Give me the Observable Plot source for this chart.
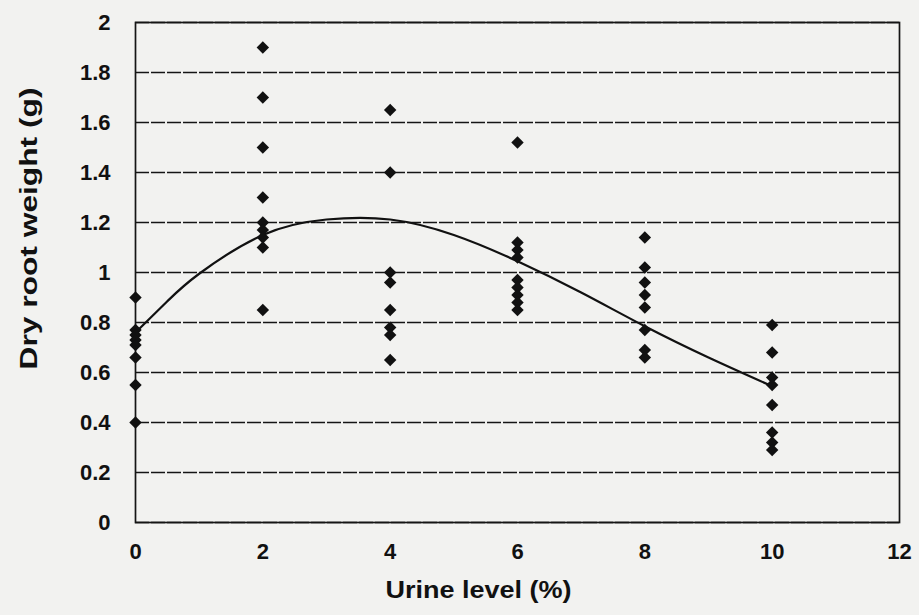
<!DOCTYPE html>
<html><head><meta charset="utf-8">
<script src="https://cdn.jsdelivr.net/npm/d3@7"></script>
<script src="https://cdn.jsdelivr.net/npm/@observablehq/plot@0.6"></script>
<style>
  html, body { margin: 0; padding: 0; background: #f2f2f0; }
  svg { display: block; }
</style>
</head>
<body>
<div id="chart"></div>
<script>
// Urine level categories (%)
const urineLevels = [0, 2, 4, 6, 8, 10];
// Dry root weight (g) for each urine level
const weightsAt0  = [0.90, 0.77, 0.75, 0.73, 0.71, 0.66, 0.55, 0.40];
const weightsAt2  = [1.90, 1.70, 1.50, 1.30, 1.20, 1.17, 1.14, 1.10, 0.85];
const weightsAt4  = [1.65, 1.40, 1.00, 0.96, 0.85, 0.78, 0.75, 0.65];
const weightsAt6  = [1.52, 1.12, 1.09, 1.06, 0.97, 0.94, 0.91, 0.88, 0.85];
const weightsAt8  = [1.14, 1.02, 0.96, 0.91, 0.86, 0.77, 0.69, 0.66];
const weightsAt10 = [0.79, 0.68, 0.58, 0.55, 0.47, 0.36, 0.32, 0.29];
// Fitted trend curve
const fitX = [0, 0.5, 1, 2, 3, 4, 5, 6, 7, 8, 9, 10];
const fitY = [0.76, 0.885, 0.995, 1.15, 1.212, 1.212, 1.15, 1.045, 0.92, 0.785, 0.66, 0.545];
// Axis ticks and titles
const xTicks = [0, 2, 4, 6, 8, 10, 12];
const yTicks = [0, 0.2, 0.4, 0.6, 0.8, 1, 1.2, 1.4, 1.6, 1.8, 2];
const xTitle = "Urine level (%)";
const yTitle = "Dry root weight (g)";

const weightSets = [weightsAt0, weightsAt2, weightsAt4, weightsAt6, weightsAt8, weightsAt10];
const points = urineLevels.flatMap((u, i) => weightSets[i].map(w => ({u, w})));
const fit = fitX.map((x, i) => ({x, y: fitY[i]}));

const font = "'Liberation Sans', Arial, Helvetica, sans-serif";

const chart = Plot.plot({
  width: 919,
  height: 615,
  marginLeft: 135,
  marginRight: 20,
  marginTop: 22,
  marginBottom: 93,
  style: {fontFamily: font, fontWeight: "bold", fontSize: "20px", background: "#f2f2f0", color: "#111"},
  x: {domain: [0, 12]},
  y: {domain: [0, 2]},
  marks: [
    Plot.gridY(yTicks, {stroke: "#151515", strokeOpacity: 1, strokeWidth: 1.5, strokeDasharray: "14,2"}),
    Plot.frame({stroke: "#151515", strokeWidth: 1.7}),
    Plot.axisX(xTicks, {tickSize: 0, tickPadding: 21, label: null, fontSize: 22, fontWeight: "bold"}),
    Plot.axisY(yTicks, {tickSize: 0, tickPadding: 25, label: null, fontSize: 22, fontWeight: "bold", tickFormat: d => String(d)}),
    Plot.line(fit, {x: "x", y: "y", curve: "natural", stroke: "#111", strokeWidth: 2.2}),
    Plot.dot(points, {x: "u", y: "w", symbol: "diamond2", r: 5.6, fill: "#111", stroke: "none"}),
    Plot.text([xTitle], {text: d => d, frameAnchor: "bottom", textAnchor: "middle", dx: -39, dy: 75, fontSize: 23, fontWeight: "bold", fill: "#111"}),
    Plot.text([yTitle], {text: d => d, frameAnchor: "left", textAnchor: "middle", rotate: -90, dx: -106, dy: -44, fontSize: 23, fontWeight: "bold", fill: "#111"})
  ]
});
// stretch the two axis titles to the length they take in the reference
d3.select(chart).selectAll("text")
  .filter(function() { return this.textContent === xTitle; })
  .attr("textLength", 186).attr("lengthAdjust", "spacingAndGlyphs");
d3.select(chart).selectAll("text")
  .filter(function() { return this.textContent === yTitle; })
  .attr("textLength", 282).attr("lengthAdjust", "spacingAndGlyphs");
document.getElementById("chart").appendChild(chart);
</script>
</body></html>
